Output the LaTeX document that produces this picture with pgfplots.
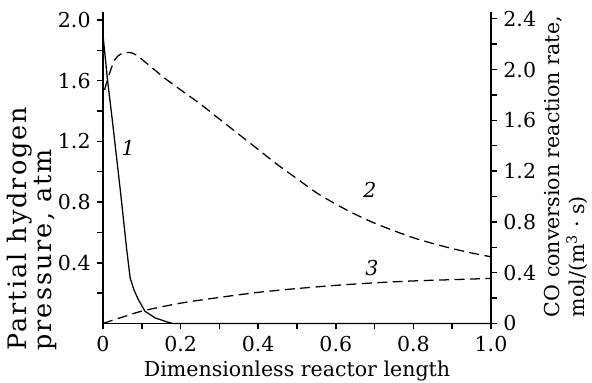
\documentclass[border=0pt]{standalone}
\usepackage{fontspec}
\setmainfont{DejaVu Serif}
\usepackage{pgfplots}
\pgfplotsset{compat=1.18}
\newcommand{\fs}{\fontsize{11.3}{13.5}\selectfont}
\newcommand{\fl}{\fontsize{14}{12.6}\selectfont\addfontfeature{LetterSpace=8}}
\begin{document}
\begin{tikzpicture}
\pgfplotsset{
  common/.style={
    scale only axis, width=213.4pt, height=171.3pt,
    at={(0pt,0pt)}, anchor=south west,
    xmin=0, xmax=1,
    axis line style={line width=0.8pt, -},
    tick align=outside, major tick length=3.3pt,
    tick style={line width=0.8pt, black},
    tick label style={font=\fs},
    label style={font=\fs},
    clip=false,
  }
}
\begin{axis}[common,
  ymin=0, ymax=2.053,
  axis x line*=bottom, axis y line*=left,
  xtick={0,0.1,0.2,0.3,0.4,0.5,0.6,0.7,0.8,0.9,1.0},
  xticklabels={\mbox{0},,\mbox{0.2},,\mbox{0.4},,\mbox{0.6},,\mbox{0.8},,\mbox{1.0}},
  ytick={0.2,0.4,0.6,0.8,1.0,1.2,1.4,1.6,1.8,2.0},
  yticklabels={,\mbox{0.4},,\mbox{0.8},,\mbox{1.2},,\mbox{1.6},,\mbox{2.0}},
  xlabel={Dimensionless reactor length},
  xlabel style={at={(axis description cs:0.5,0)}, anchor=base, yshift=-29.4pt},
  ylabel={Partial hydrogen\\pressure, atm},
  ylabel style={font=\fl, align=left, at={(axis description cs:-0.103,-0.1075)}, anchor=south west},
]
\addplot[black, line width=0.7pt] coordinates {
(0,1.90) (0.011,1.62) (0.024,1.34) (0.045,0.87) (0.061,0.49) (0.070,0.30)
(0.080,0.22) (0.091,0.158) (0.108,0.081) (0.134,0.037) (0.164,0.011)
(0.180,0.0) (1.0,0.0)
};
\node[font=\fs] at (axis cs:0.065,1.155) {\itshape 1};
\end{axis}
\begin{axis}[common,
  ymin=0, ymax=2.453,
  axis y line*=right, axis x line=none,
  ytick={0,0.2,0.4,0.6,0.8,1.0,1.2,1.4,1.6,1.8,2.0,2.2,2.4},
  yticklabels={\mbox{0},,\mbox{0.4},,\mbox{0.8},,\mbox{1.2},,\mbox{1.6},,\mbox{2.0},,\mbox{2.4}},
  ylabel={CO conversion reaction rate,\\mol/(m\textsuperscript{3} · s)},
  ylabel style={align=left, at={(axis description cs:1.121,0)}, anchor=north west},
]
\addplot[black, line width=0.7pt, dash pattern=on 5.5pt off 3pt, smooth, tension=0.5] coordinates {
(0.004,1.84) (0.018,1.98) (0.031,2.08) (0.045,2.12) (0.06,2.135) (0.075,2.13)
(0.09,2.105) (0.12,2.03) (0.16,1.93) (0.2,1.84) (0.25,1.73) (0.3,1.61)
(0.35,1.49) (0.4,1.37) (0.45,1.25) (0.5,1.14) (0.55,1.03) (0.6,0.94)
(0.65,0.86) (0.7,0.79) (0.75,0.73) (0.8,0.675) (0.85,0.63) (0.9,0.59)
(0.95,0.555) (1.0,0.525)
};
\addplot[black, line width=0.7pt, dash pattern=on 5.5pt off 3pt, smooth, tension=0.5] coordinates {
(0,0) (0.05,0.05) (0.104,0.10) (0.2,0.16) (0.3,0.205) (0.4,0.245) (0.5,0.275)
(0.6,0.30) (0.7,0.32) (0.8,0.335) (0.9,0.345) (1.0,0.355)
};
\node[font=\fs] at (axis cs:0.688,1.05) {\itshape 2};
\node[font=\fs] at (axis cs:0.693,0.435) {\itshape 3};
\end{axis}
\pgfresetboundingbox
\path[use as bounding box] (-56.65pt,-32.2pt) rectangle (268.95pt,177.9pt);
\end{tikzpicture}
\end{document}
